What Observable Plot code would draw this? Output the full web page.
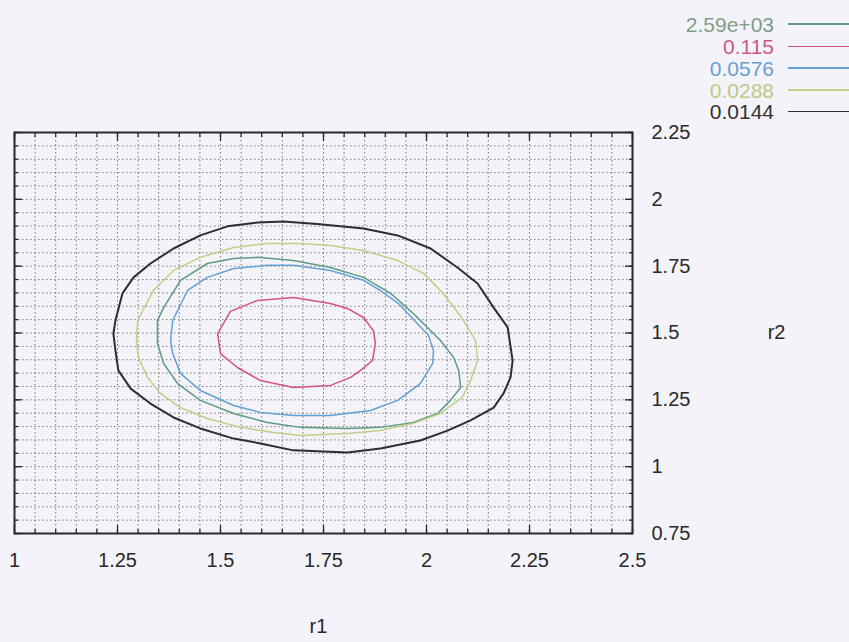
<!DOCTYPE html>
<html><head><meta charset="utf-8">
<script src="https://cdn.jsdelivr.net/npm/d3@7"></script>
<script src="https://cdn.jsdelivr.net/npm/@observablehq/plot@0.6"></script>
<style>
body{margin:0;background:#f3f3f9;}
#wrap{position:relative;width:849px;height:642px;overflow:hidden;font-family:"Liberation Sans",Arial,sans-serif;}
.lg-text{position:absolute;right:75px;font-size:21px;line-height:19px;white-space:nowrap;}
.lg-line{position:absolute;left:788px;width:61px;height:1.6px;}
</style></head><body><div id="wrap"></div>
<script>
// Contour levels (legend order) and colours
const levels = ["2.59e+03", "0.115", "0.0576", "0.0288", "0.0144"];
const levelColors = ["#5e9c80", "#d4508a", "#64a0d8", "#c3cf86", "#2e2e2e"];
const legendTextColors = ["#7f9d88", "#d0578a", "#6a9fd2", "#bccb86", "#333333"];

// Axis ticks
const xTicks = [1, 1.25, 1.5, 1.75, 2, 2.25, 2.5];
const yTicks = [0.75, 1, 1.25, 1.5, 1.75, 2, 2.25];
const minorStep = 0.05;

// Contour 2.59e+03
const c1_r1 = [1.347,1.347,1.362,1.403,1.468,1.532,1.590,1.677,1.767,1.847,1.913,1.968,2.034,2.066,2.078,2.083,2.058,2.027,1.968,1.888,1.808,1.694,1.614,1.532,1.451,1.396,1.362];
const c1_r2 = [1.461,1.547,1.595,1.697,1.760,1.779,1.783,1.771,1.745,1.708,1.648,1.573,1.472,1.408,1.360,1.296,1.248,1.199,1.165,1.147,1.143,1.147,1.165,1.199,1.248,1.311,1.386];
// Contour 0.115
const c2_r1 = [1.493,1.524,1.590,1.677,1.767,1.808,1.847,1.871,1.876,1.869,1.840,1.816,1.767,1.677,1.597,1.541,1.500];
const c2_r2 = [1.498,1.581,1.622,1.633,1.610,1.592,1.558,1.509,1.461,1.397,1.360,1.334,1.304,1.296,1.322,1.371,1.423];
// Contour 0.0576
const c3_r1 = [1.379,1.384,1.420,1.468,1.532,1.614,1.677,1.767,1.847,1.888,1.932,1.966,2.005,2.017,2.015,1.985,1.930,1.864,1.767,1.677,1.597,1.532,1.451,1.403,1.384];
const c3_r2 = [1.472,1.547,1.659,1.708,1.741,1.753,1.753,1.734,1.697,1.659,1.610,1.554,1.491,1.435,1.386,1.311,1.248,1.210,1.191,1.191,1.203,1.229,1.285,1.349,1.423];
// Contour 0.0288
const c4_r1 = [1.296,1.299,1.337,1.386,1.451,1.532,1.614,1.694,1.767,1.847,1.930,1.993,2.041,2.087,2.119,2.124,2.107,2.087,2.034,1.968,1.888,1.808,1.694,1.629,1.549,1.468,1.403,1.354,1.323,1.301];
const c4_r2 = [1.472,1.547,1.659,1.734,1.783,1.820,1.835,1.835,1.827,1.809,1.771,1.723,1.648,1.554,1.472,1.397,1.322,1.259,1.199,1.162,1.135,1.124,1.117,1.128,1.147,1.180,1.221,1.274,1.334,1.408];
// Contour 0.0144
const c5_r1 = [1.240,1.245,1.262,1.289,1.330,1.386,1.451,1.517,1.590,1.653,1.735,1.847,1.930,2.010,2.075,2.124,2.163,2.197,2.209,2.204,2.187,2.163,2.107,2.051,1.985,1.888,1.808,1.677,1.597,1.532,1.451,1.386,1.330,1.282,1.252,1.245];
const c5_r2 = [1.498,1.547,1.648,1.708,1.760,1.816,1.865,1.899,1.913,1.917,1.908,1.891,1.865,1.816,1.745,1.685,1.595,1.521,1.397,1.334,1.274,1.221,1.173,1.135,1.098,1.068,1.053,1.061,1.087,1.105,1.143,1.184,1.236,1.292,1.360,1.435];

const r1Series = [c1_r1, c2_r1, c3_r1, c4_r1, c5_r1];
const r2Series = [c1_r2, c2_r2, c3_r2, c4_r2, c5_r2];

const table = levels.flatMap((level, i) => r1Series[i].map((r1, j) => ({level, r1, r2: r2Series[i][j]})));

const xDomain = [xTicks[0], xTicks[xTicks.length - 1]];
const yDomain = [yTicks[0], yTicks[yTicks.length - 1]];
const steps = (a, b) => d3.range(0, Math.round((b - a) / minorStep) + 1).map(i => +(a + i * minorStep).toFixed(4));
const minorX = steps(xDomain[0], xDomain[1]);
const minorY = steps(yDomain[0], yDomain[1]);

const noText = () => "";
const inward = (anchor, ticks, size, ax) => {
  const o = {anchor, ticks, tickSize: size, tickFormat: noText, label: null, stroke: "#2a2a2a", strokeWidth: 1.3};
  if (anchor === "bottom") o.dy = -size;
  if (anchor === "top") o.dy = size;
  if (anchor === "left") o.dx = size;
  if (anchor === "right") o.dx = -size;
  return ax(o);
};

const chart = Plot.plot({
  width: 849,
  height: 642,
  marginLeft: 14,
  marginRight: 217,
  marginTop: 132,
  marginBottom: 109,
  style: {background: "transparent", fontFamily: "'Liberation Sans', Arial, sans-serif", fontSize: "20px", color: "#2a2a2a"},
  x: {domain: xDomain},
  y: {domain: yDomain},
  color: {domain: levels, range: levelColors},
  marks: [
    Plot.gridX({ticks: minorX, stroke: "#4a4a4a", strokeOpacity: 0.7, strokeDasharray: "1.5,2.5"}),
    Plot.gridY({ticks: minorY, stroke: "#4a4a4a", strokeOpacity: 0.7, strokeDasharray: "1.5,2.5"}),
    inward("bottom", minorX, 4, Plot.axisX),
    inward("top", minorX, 4, Plot.axisX),
    inward("left", minorY, 4, Plot.axisY),
    inward("right", minorY, 4, Plot.axisY),
    inward("bottom", xTicks, 8, Plot.axisX),
    inward("top", xTicks, 8, Plot.axisX),
    inward("left", yTicks, 8, Plot.axisY),
    inward("right", yTicks, 8, Plot.axisY),
    Plot.axisX({anchor: "bottom", ticks: xTicks, tickSize: 0, tickPadding: 19, label: null, fontSize: 20, tickFormat: d => String(d)}),
    Plot.axisY({anchor: "right", ticks: yTicks, tickSize: 0, tickPadding: 19, label: null, fontSize: 20, tickFormat: d => String(d)}),
    Plot.line(table, {x: "r1", y: "r2", z: "level", stroke: "level", curve: "linear-closed",
      strokeWidth: d => d.level === levels[4] ? 2 : 1.5}),
    Plot.frame({stroke: "#2a2a2a", strokeWidth: 2}),
    Plot.text(["r1"], {frameAnchor: "bottom", dy: 99, dx: -5, fill: "#2a2a2a", fontSize: 20}),
    Plot.text(["r2"], {frameAnchor: "right", dx: 153, fill: "#2a2a2a", fontSize: 20})
  ]
});

const wrap = document.getElementById("wrap");
wrap.appendChild(chart);

const rowY = [24, 46.5, 68, 90, 111.5];
levels.forEach((lev, i) => {
  const t = document.createElement("div");
  t.className = "lg-text";
  t.textContent = lev;
  t.style.color = legendTextColors[i];
  t.style.top = (rowY[i] - 9.5) + "px";
  wrap.appendChild(t);
  const l = document.createElement("div");
  l.className = "lg-line";
  l.style.background = levelColors[i];
  l.style.top = (rowY[i] - 0.8) + "px";
  wrap.appendChild(l);
});
</script>
</body></html>
